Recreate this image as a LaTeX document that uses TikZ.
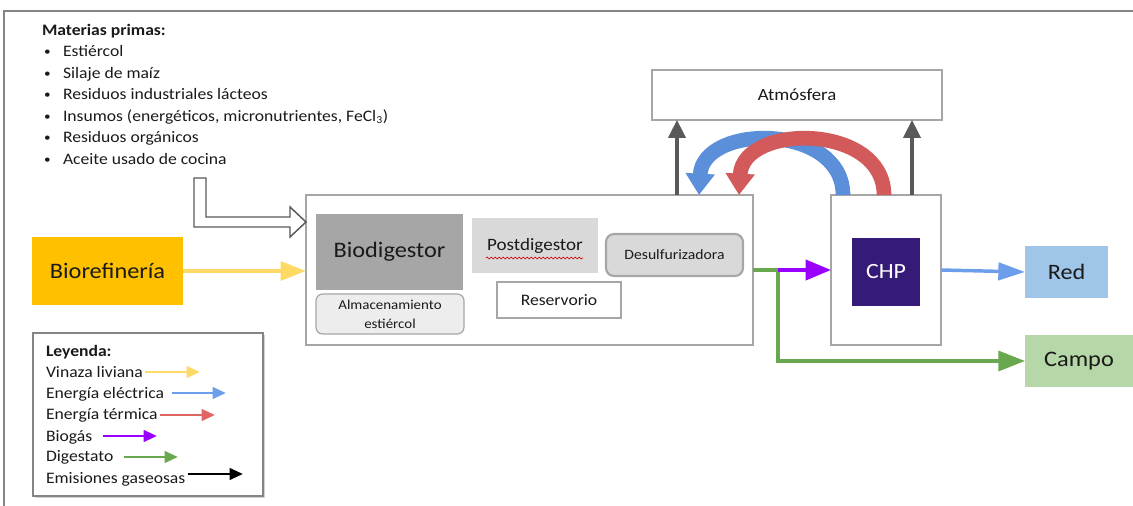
\documentclass[tikz,border=0pt]{standalone}
\usepackage{fontspec}
\setmainfont[FakeStretch=1.1]{Carlito}
\usetikzlibrary{arrows.meta,decorations.pathmorphing,shadows,calc}
\definecolor{framegray}{HTML}{858585}
\definecolor{boxgray}{HTML}{A6A6A6}
\definecolor{biodfill}{HTML}{A6A6A6}
\definecolor{postfill}{HTML}{D9D9D9}
\definecolor{almfill}{HTML}{EDEDED}
\definecolor{orangef}{HTML}{FFC000}
\definecolor{vinc}{HTML}{FFD966}
\definecolor{elecc}{HTML}{6D9EEB}
\definecolor{elecarc}{HTML}{5B8FDA}
\definecolor{termc}{HTML}{E06666}
\definecolor{termarc}{HTML}{D35A5A}
\definecolor{biogc}{HTML}{9900FF}
\definecolor{digc}{HTML}{6AA84F}
\definecolor{emisc}{HTML}{595959}
\definecolor{chpfill}{HTML}{351A78}
\definecolor{redfill}{HTML}{9FC5E8}
\definecolor{campofill}{HTML}{B6D7A8}
\definecolor{textc}{HTML}{1A1A1A}
\begin{document}
\begin{tikzpicture}[x=0.75pt,y=-0.75pt,
  box/.style={draw=boxgray, line width=0.9pt, inner sep=0pt, outer sep=0pt, align=center, text=textc},
  plain/.style={inner sep=0pt, outer sep=0pt, align=center, text=textc},
  listtxt/.style={inner sep=0pt, outer sep=0pt, anchor=base west, text=textc, font=\fontsize{12}{14}\selectfont},
  vin/.style={draw=vinc, line width=3pt, -{Triangle[width=14pt,length=19pt]}},
  elec/.style={draw=elecc, line width=2.6pt, -{Triangle[width=13pt,length=20pt]}},
  biog/.style={draw=biogc, line width=2.8pt, -{Triangle[width=15pt,length=19pt]}},
  diges/.style={draw=digc, line width=2.6pt, -{Triangle[width=15pt,length=20pt]}},
  emis/.style={draw=emisc, line width=2.4pt, -{Triangle[width=13pt,length=13.5pt]}},
  arcarrow/.style={line width=11pt, -{Triangle[width=21pt,length=16pt]}},
  legarrow/.style={line width=2.2pt, -{Triangle[width=8.5pt,length=10pt]}},
]
\useasboundingbox (0,0) rectangle (1133,506);
% frame
\draw[framegray, line width=1.6pt] (4,506) -- (4,11) -- (1133,11);

% raw materials list
\node[listtxt, font=\fontsize{12}{14}\selectfont\bfseries] (m0) at (42,36) {Materias primas:};
\foreach \t [count=\i] in {Estiércol, Silaje de maíz, Residuos industriales lácteos,
   {Insumos (energéticos, micronutrientes, FeCl\textsubscript{3})}, Residuos orgánicos, Aceite usado de cocina}{
  \node[listtxt, font=\fontsize{9}{10}\selectfont] (k\i) at (44,{34+21.6*\i}) {\textbullet};
  \node[listtxt] (m\i) at (63,{35+21.6*\i}) {\t};
}

% main boxes
\node[box, minimum width=447*0.75pt, minimum height=150*0.75pt] (dig) at (529.5,270) {};
\node[plain, fill=biodfill, minimum width=147*0.75pt, minimum height=76*0.75pt,
      font=\fontsize{16.6}{20}\selectfont] (biod) at (389.5,252) {Biodigestor};
\node[box, rounded corners=5pt, fill=almfill, minimum width=148*0.75pt, minimum height=40*0.75pt,
      font=\fontsize{10.2}{14}\selectfont] (alm) at (390,314) {Almacenamiento\\estiércol};
\node[plain, fill=postfill, minimum width=126*0.75pt, minimum height=55*0.75pt,
      font=\fontsize{13}{16}\selectfont] (post) at (535,245.5) {Postdigestor};
\draw[red!85!black, line width=0.5pt, decorate, decoration={snake, amplitude=0.7pt, segment length=3pt}]
  (486,258) -- (583,258);
\node[box, draw=boxgray, line width=1.6pt, rounded corners=6pt, fill=postfill, minimum width=137*0.75pt,
      minimum height=42*0.75pt, font=\fontsize{10.7}{13}\selectfont] (desul) at (674.5,255) {Desulfurizadora};
\node[box, line width=1.3pt, fill=white, minimum width=124*0.75pt, minimum height=36*0.75pt,
      font=\fontsize{12}{14}\selectfont] (res) at (559,300) {Reservorio};

\node[plain, fill=orangef, minimum width=151*0.75pt, minimum height=68*0.75pt,
      font=\fontsize{16.6}{20}\selectfont] (bio) at (107.5,271) {Biorefinería};

\node[box, fill=white, minimum width=290*0.75pt, minimum height=50*0.75pt,
      font=\fontsize{12.8}{15}\selectfont] (atm) at (797,95) {Atmósfera};

\node[box, fill=white, minimum width=110*0.75pt, minimum height=150*0.75pt] (chpo) at (886,270) {};
\node[plain, fill=chpfill, text=white, minimum width=68*0.75pt, minimum height=68*0.75pt,
      font=\fontsize{16.3}{20}\selectfont] (chp) at (886,272) {CHP};

\node[plain, fill=redfill, minimum width=83*0.75pt, minimum height=52*0.75pt,
      font=\fontsize{16.5}{20}\selectfont] (red) at (1066.5,272) {Red};
\node[plain, fill=campofill, minimum width=108*0.75pt, minimum height=52*0.75pt,
      font=\fontsize{16.6}{20}\selectfont] (campo) at (1079,361) {Campo};

% hollow input arrow (materias primas)
\draw[emisc, line width=1.1pt, fill=white, line join=miter]
  (194,178) -- (206,178) -- (206,217) -- (290,217) -- (290,207) -- (dig.west |- 0,222)
  -- (290,237) -- (290,227) -- (194,227) -- cycle;

% connectors
\coordinate (split) at (778,270);
\coordinate (e1) at (677,0);
\coordinate (e2) at (912,0);
\coordinate (bs) at (843,0);
\coordinate (be) at (699,0);
\coordinate (rs) at (884,0);
\coordinate (re) at (739,0);

\draw[vin] (bio.east) -- (bio.east -| dig.west);
\draw[diges] (dig.east |- split) -- (split) |- (campo.west);
\draw[biog] (split) -- (chpo.west);
\draw[elec] (chpo.east) -- (red.west);
\draw[emis] (dig.north -| e1) -- (atm.south -| e1);
\draw[emis] (chpo.north -| e2) -- (atm.south -| e2);

\draw[arcarrow, draw=elecarc] (chpo.north -| bs) .. controls +(0,-72) and +(4,-72) .. (dig.north -| be);
\draw[arcarrow, draw=termarc] (chpo.north -| rs) .. controls +(0,-72) and +(4,-72) .. (dig.north -| re);

% legend
\node[box, draw=framegray, line width=1pt, fill=white, minimum width=230*0.75pt, minimum height=163*0.75pt,
      drop shadow={shadow xshift=1.2pt, shadow yshift=-1.2pt, opacity=0.35}] (leg) at (148,414.5) {};
\node[listtxt, font=\fontsize{12}{14}\selectfont\bfseries] (l0) at (46,357) {Leyenda:};
\node[listtxt] (l1) at (46,378) {Vinaza liviana};
\node[listtxt] (l2) at (46,398) {Energía eléctrica};
\node[listtxt] (l3) at (46,419) {Energía térmica};
\node[listtxt] (l4) at (46,441) {Biogás};
\node[listtxt] (l5) at (46,461) {Digestato};
\node[listtxt] (l6) at (46,483) {Emisiones gaseosas};
\draw[legarrow, draw=vinc] (145,372) -- (200,372);
\draw[legarrow, draw=elecc] (172,393) -- (226,393);
\draw[legarrow, draw=termc] (160,415) -- (215,415);
\draw[legarrow, draw=biogc] (103,436) -- (157,436);
\draw[legarrow, draw=digc] (124,457) -- (178,457);
\draw[legarrow, draw=black] (188,474) -- (243,474);
\end{tikzpicture}
\end{document}
